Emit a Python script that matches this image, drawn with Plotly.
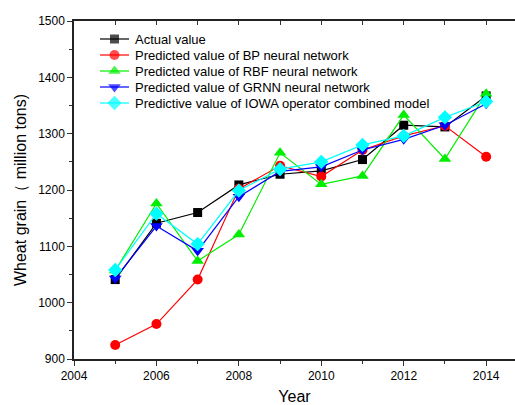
import plotly.graph_objects as go

years = [2005, 2006, 2007, 2008, 2009, 2010, 2011, 2012, 2013, 2014]
actual = [1041, 1141, 1160, 1209, 1228, 1234, 1254, 1315, 1312, 1367]
bp = [925, 962, 1041, 1202, 1243, 1224, 1271, 1296, 1314, 1259]
rbf = [1057, 1176, 1074, 1121, 1266, 1210, 1225, 1333, 1255, 1371]
grnn = [1043, 1136, 1092, 1188, 1233, 1241, 1271, 1290, 1315, 1353]
iowa = [1058, 1158, 1104, 1199, 1237, 1250, 1280, 1296, 1329, 1357]

series = [
    ("Actual value", actual, "black", "square", 9),
    ("Predicted value of BP neural network", bp, "red", "circle", 10),
    ("Predicted value of RBF neural network", rbf, "#00ee00", "triangle-up", 11),
    ("Predicted value of GRNN neural network", grnn, "blue", "triangle-down", 11),
    ("Predictive value of IOWA operator combined model", iowa, "cyan", "diamond", 11),
]

# plot-area size in pixels; the key is laid out on an overlay axis in these units
W, H = 515, 405
L, R, T, B = 74, 0, 21, 46
KEY_X0, KEY_X1, KEY_TEXT_X = 100, 129, 133
KEY_Y0, KEY_DY = 39, 16

font = "Liberation Sans, Arial, sans-serif"
fig = go.Figure()
for i, (name, vals, color, symbol, size) in enumerate(series):
    fig.add_trace(go.Scatter(
        x=years, y=vals, name=name, mode="lines+markers",
        line=dict(color=color, width=1.2),
        marker=dict(color=color, symbol=symbol, size=size, line=dict(width=0)),
        showlegend=False,
    ))
    # key entry: short line with a marker in the middle, then the label
    ky = KEY_Y0 + i * KEY_DY
    fig.add_trace(go.Scatter(
        x=[KEY_X0, (KEY_X0 + KEY_X1) / 2, KEY_X1], y=[ky, ky, ky],
        xaxis="x3", yaxis="y3", mode="lines+markers",
        line=dict(color=color, width=1.2),
        marker=dict(color=color, symbol=symbol, size=[0, size, 0], line=dict(width=0)),
        showlegend=False, hoverinfo="skip",
    ))
    fig.add_annotation(x=KEY_TEXT_X, y=ky, xref="x3", yref="y3", text=name,
                       showarrow=False, xanchor="left", yanchor="middle",
                       font=dict(size=13, family=font, color="black"))

# invisible trace on the top axis so its inward ticks get drawn
fig.add_trace(go.Scatter(x=[2004, 2014.7], y=[900, 900], xaxis="x2",
                         mode="lines", line=dict(width=0), showlegend=False,
                         hoverinfo="skip"))

fig.update_layout(
    width=W, height=H,
    margin=dict(l=L, r=R, t=T, b=B),
    plot_bgcolor="white", paper_bgcolor="white",
    font=dict(family=font, size=12, color="black"),
    showlegend=False,
    xaxis=dict(
        range=[2004, 2014.7], tickmode="array", tickvals=[2004, 2006, 2008, 2010, 2012, 2014],
        ticks="outside", ticklen=5, tickwidth=1, tickcolor="#333",
        minor=dict(dtick=1, tick0=2004, ticks="outside", ticklen=3, tickcolor="#333"),
        showline=True, linecolor="#222", linewidth=1.5, showgrid=False, zeroline=False,
        title=dict(text="Year", font=dict(size=16), standoff=15),
        tickfont=dict(size=12), automargin=False,
    ),
    xaxis2=dict(
        overlaying="x", side="top", range=[2004, 2014.7],
        tickmode="array", tickvals=list(range(2004, 2015)),
        ticks="inside", ticklen=4, tickcolor="#333", showticklabels=False,
        showline=True, linecolor="#222", linewidth=1.5, showgrid=False, zeroline=False,
        automargin=False,
    ),
    xaxis3=dict(overlaying="x", range=[L, W - R], visible=False, fixedrange=True),
    yaxis3=dict(overlaying="y", anchor="x3", range=[H - B, T], visible=False, fixedrange=True),
    yaxis=dict(
        range=[900, 1500], tickmode="array", tickvals=[900, 1000, 1100, 1200, 1300, 1400, 1500],
        ticks="outside", ticklen=5, tickwidth=1, tickcolor="#333",
        minor=dict(dtick=50, tick0=900, ticks="outside", ticklen=3, tickcolor="#333"),
        showline=True, linecolor="#222", linewidth=1.5, showgrid=False, zeroline=False,
        title=dict(text="Wheat grain（ million tons)", font=dict(size=16), standoff=8),
        tickfont=dict(size=12), automargin=False,
    ),
)

fig.write_html("out.html")
